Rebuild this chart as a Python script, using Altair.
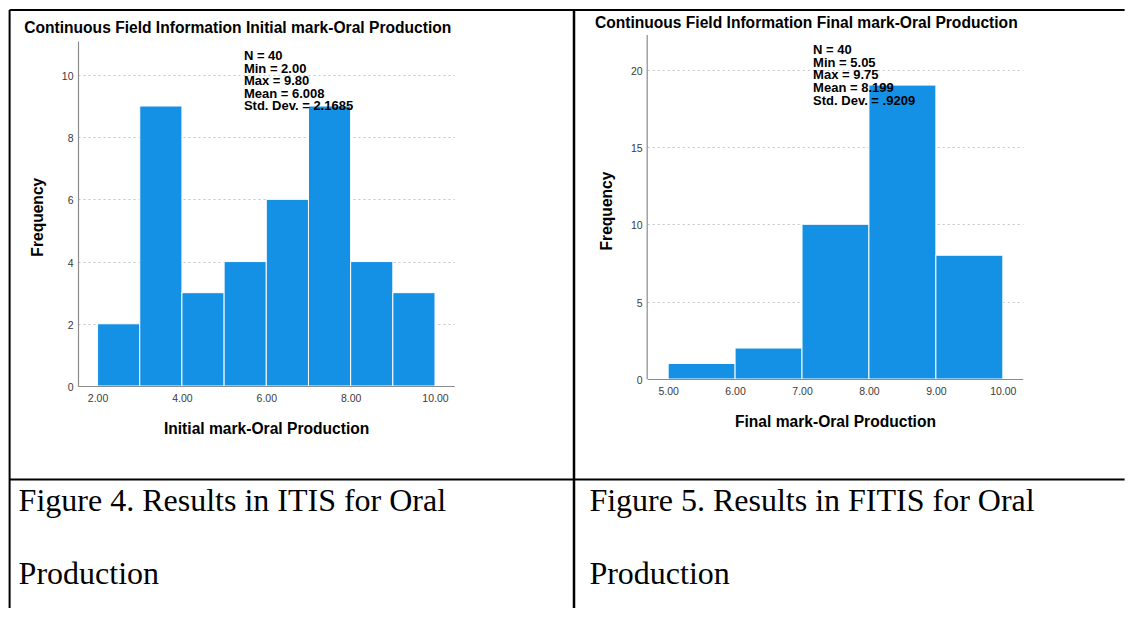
import altair as alt
import pandas as pd

# ---------------- data ----------------
init_edges = [2, 3, 4, 5, 6, 7, 8, 9, 10]
init_counts = [2, 9, 3, 4, 6, 9, 4, 3]
init_xticks = [2, 4, 6, 8, 10]
init_yticks = [0, 2, 4, 6, 8, 10]
init_stats = ["N = 40", "Min = 2.00", "Max = 9.80", "Mean = 6.008", "Std. Dev. = 2.1685"]
init_title = "Continuous Field Information Initial mark-Oral Production"
init_xtitle = "Initial mark-Oral Production"
init_caption = ["Figure 4. Results in ITIS for Oral", "Production"]

final_edges = [5, 6, 7, 8, 9, 10]
final_counts = [1, 2, 10, 19, 8]
final_xticks = [5, 6, 7, 8, 9, 10]
final_yticks = [0, 5, 10, 15, 20]
final_stats = ["N = 40", "Min = 5.05", "Max = 9.75", "Mean = 8.199", "Std. Dev. = .9209"]
final_title = "Continuous Field Information Final mark-Oral Production"
final_xtitle = "Final mark-Oral Production"
final_caption = ["Figure 5. Results in FITIS for Oral", "Production"]

# ---------------- style ----------------
BLUE = "#1490E5"
AXIS_GREY = "#8c8c8c"
GRID_GREY = "#c4c4c4"
LABEL_GREY = "#3a3a3a"
SANS = "Liberation Sans"
SERIF = "Liberation Serif"

one = pd.DataFrame({"k": [0]})


def text_layer(lines, x, y, font, size, weight="normal", line_height=None):
    kw = dict(align="left", baseline="alphabetic", font=font, fontSize=size,
              fontWeight=weight, color="#000000")
    if line_height is not None:
        kw["lineHeight"] = line_height
    return alt.Chart(one).mark_text(**kw).encode(
        x=alt.value(x), y=alt.value(y), text=alt.value(lines)
    )


def rule_layer(x, x2, y, y2, width):
    return alt.Chart(one).mark_rule(color="#000000", strokeWidth=width).encode(
        x=alt.value(x), x2=alt.value(x2), y=alt.value(y), y2=alt.value(y2)
    )


def hist_panel(edges, counts, xticks, yticks, xdomain, ydomain, width, height,
               xtitle, ytitle_y, stats, stats_y, title, title_x, title_y,
               caption, caption_x, y_rule_top=None, extra=()):
    df = pd.DataFrame({"start": edges[:-1], "end": edges[1:], "count": counts})
    bars = alt.Chart(df).mark_bar(color=BLUE, stroke="#ffffff", strokeWidth=1).encode(
        x=alt.X(
            "start:Q",
            scale=alt.Scale(domain=xdomain, nice=False, zero=False),
            axis=alt.Axis(
                values=xticks, format=".2f", grid=False, ticks=False, tickSize=0,
                domainColor=AXIS_GREY, domainWidth=1.2, zindex=1,
                labelFont=SANS, labelFontSize=10.5, labelColor=LABEL_GREY,
                labelPadding=7.8, labelBaseline="top", labelFlush=False,
                title=xtitle, titleFont=SANS, titleFontSize=15.6,
                titleFontWeight="bold", titleColor="#000000",
                titleY=47, titleBaseline="alphabetic",
            ),
        ),
        x2="end:Q",
        y=alt.Y(
            "count:Q",
            scale=alt.Scale(domain=ydomain, nice=False, zero=True),
            axis=alt.Axis(
                values=yticks, format="d", grid=True, gridColor=GRID_GREY,
                gridDash=[2, 3], gridWidth=1, ticks=False, tickSize=0,
                domain=(y_rule_top is None), domainColor=AXIS_GREY, domainWidth=1.2,
                labelFont=SANS, labelFontSize=10.5, labelColor=LABEL_GREY,
                labelPadding=5, labelOffset=1.5, labelFlush=False,
                title="Frequency", titleFont=SANS, titleFontSize=15.6,
                titleFontWeight="bold", titleColor="#000000",
                titleAngle=270, titleBaseline="alphabetic", titleAlign="center",
                titleX=-35.5, titleY=ytitle_y,
            ),
        ),
        y2=alt.datum(0),
    )
    layers = [bars]
    if y_rule_top is not None:
        layers.append(
            alt.Chart(one).mark_rule(color=AXIS_GREY, strokeWidth=1.2).encode(
                x=alt.value(0), y=alt.datum(0), y2=alt.value(y_rule_top)
            )
        )
    layers.append(text_layer(stats, 165.9, stats_y, SANS, 13, "bold", 12.6))
    layers.append(text_layer(title, title_x, title_y, SANS, 15.6, "bold"))
    layers.append(text_layer(caption, caption_x, 470, SERIF, 32, "normal", 73.3))
    layers.extend(extra)
    return alt.layer(*layers).properties(width=width, height=height)


# table borders (drawn in panel 1 local pixel space)
table_lines = [
    rule_layer(-68.4, 1046.6, -31, -31, 2),      # top border
    rule_layer(-68.4, -68.4, -31, 567, 2),       # left border
    rule_layer(496.0, 496.0, -31, 567, 2.5),     # middle divider
    rule_layer(-68.4, 1046.6, 438.6, 438.6, 2),  # row divider
]

left = hist_panel(
    init_edges, init_counts, init_xticks, init_yticks,
    xdomain=[1.536, 10.455], ydomain=[0, 11.09], width=376.2, height=345,
    xtitle=init_xtitle, ytitle_y=175.7,
    stats=init_stats, stats_y=19,
    title=init_title, title_x=-53.8, title_y=-8.3,
    caption=init_caption, caption_x=-59.4,
    extra=table_lines,
)

right = hist_panel(
    final_edges, final_counts, final_xticks, final_yticks,
    xdomain=[4.687, 10.297], ydomain=[0, 21.85], width=375.5, height=338,
    xtitle=final_xtitle, ytitle_y=169.5,
    stats=final_stats, stats_y=13.3,
    title=final_title, title_x=-52.3, title_y=-13.5,
    caption=final_caption, caption_x=-57.8,
    y_rule_top=-6,
)

chart = (
    alt.hconcat(left, right, spacing=192.2, bounds="flush")
    .properties(padding={"left": 0, "top": 0, "right": 0, "bottom": 0})
    .configure_view(stroke=None)
)

chart.save("out.html", embed_options={"renderer": "svg", "actions": False})
